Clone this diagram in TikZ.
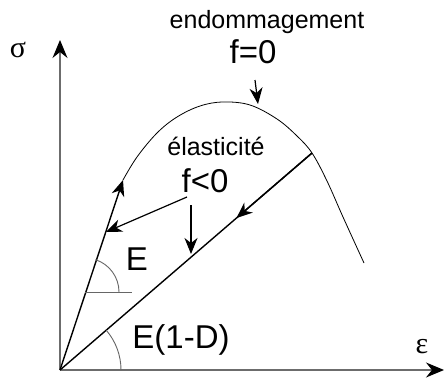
\documentclass[tikz,border=0pt]{standalone}
\usepackage{fontspec}
\setmainfont{Liberation Sans}
\newfontfamily\symfont{Liberation Serif}
\usetikzlibrary{arrows.meta,calc}
\begin{document}
\begin{tikzpicture}[x=1pt,y=-1pt,
  axis/.style={draw=gray!85!black,line width=1.1pt,-{Stealth[length=18pt,width=15pt,inset=6pt,color=black]}},
  mainline/.style={draw=black,line width=1.4pt},
  tip/.style={-{Stealth[length=16pt,width=13pt,inset=5pt]}},
  small/.style={font=\fontsize{25}{30}\selectfont,anchor=base,inner sep=0pt},
  big/.style={font=\fontsize{33}{38}\selectfont,anchor=base,inner sep=0pt},
  sym/.style={font=\symfont\fontsize{30}{34}\selectfont,anchor=base,inner sep=0pt},
  anglearc/.style={draw=gray!80!black,line width=0.9pt}]
\useasboundingbox (0,0) rectangle (445,380);
\fill[white] (0,0) rectangle (445,380);
% coordinates
\coordinate (O) at (60,370);
\coordinate (ytop) at (60,40);
\coordinate (xend) at (444,370);
\coordinate (A) at (123,180);
\coordinate (B) at (312,153);
\coordinate (C) at (364,263);
% axes
\draw[axis] (O) -- (ytop);
\draw[axis] (O) -- (xend);
\node[sym] (sigma) at (18,57) {σ};
\node[sym] (eps) at (422,353) {ε};
% curve
\draw[line width=0.8pt] plot[smooth,tension=0.6] coordinates
  {(A) (137,157) (157,133) (177,117) (200,106) (223,102) (250,105) (277,119) (297,136) (B) (327,181) (343,217) (C)};
% loading lines
\draw[mainline,tip] (O) -- (A);
\draw[mainline] (O) -- (B);
\draw[mainline,tip] (B) -- ($(O)!0.70!(B)$);
% angle marks
\coordinate (E0) at (85,292);
\coordinate (Eh) at (132,292);
\draw[anglearc] (E0) -- (Eh);
\draw[anglearc] (119,292) arc[start angle=0,end angle=-72,radius=34];
\draw[anglearc] (121,370) arc[start angle=0,end angle=-40.6,radius=61];
% labels
\node[small] (endo) at (267,28) {endommagement};
\node[big] (f0) at (253,63) {f=0};
\node[small] (elas) at (216,155) {élasticité};
\node[big] (fneg) at (205,192) {f<0};
\node[big] (E) at (137,270) {E};
\node[big] (ED) at (181,348) {E(1-D)};
% label arrows
\coordinate (f0s) at (255,80);
\coordinate (f0e) at (258,104);
\draw[line width=1.2pt,tip] (f0s) -- (f0e);
\coordinate (fa) at (187,197);
\coordinate (fae) at (106,232);
\draw[line width=1.2pt,tip] (fa) -- (fae);
\coordinate (fb) at (191,205);
\coordinate (fbe) at (191,254);
\draw[line width=1.2pt,tip] (fb) -- (fbe);
\end{tikzpicture}
\end{document}
